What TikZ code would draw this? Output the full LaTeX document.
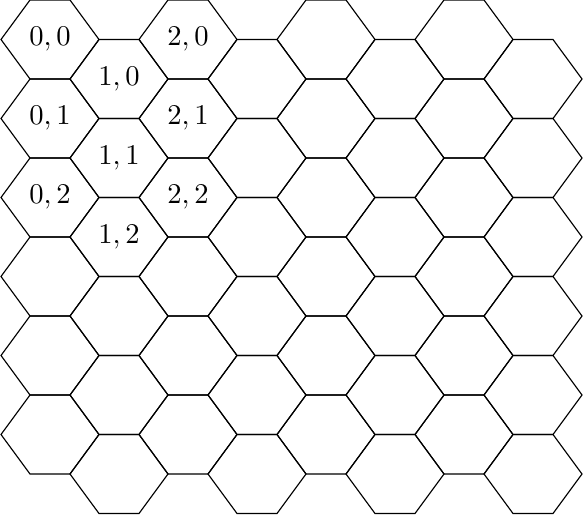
\documentclass[tikz,border=0pt]{standalone}
\begin{document}
\begin{tikzpicture}[x=0.35pt,y=-0.35pt,
  hexline/.style={draw=black,line width=0.4pt,line join=miter},
  hexlabel/.style={inner sep=0pt,font=\normalsize}]
\useasboundingbox (0,0) rectangle (583,514);
\foreach \c in {0,...,7} {
  \foreach \r in {0,...,5} {
    \pgfmathsetmacro\cx{50+69*\c}
    \pgfmathsetmacro\cy{39.5+79*\r+39.5*mod(\c,2)}
    \draw[hexline] (\cx-49,\cy) -- (\cx-20,\cy-39.5) -- (\cx+20,\cy-39.5)
      -- (\cx+49,\cy) -- (\cx+20,\cy+39.5) -- (\cx-20,\cy+39.5) -- cycle;
  }
}
\foreach \c in {0,1,2} {
  \foreach \r in {0,1,2} {
    \pgfmathsetmacro\cx{50+69*\c}
    \pgfmathsetmacro\cy{39.5+79*\r+39.5*mod(\c,2)}
    \node[hexlabel] (lab\c\r) at (\cx,\cy) {$\c,\r$};
  }
}
\end{tikzpicture}
\end{document}
